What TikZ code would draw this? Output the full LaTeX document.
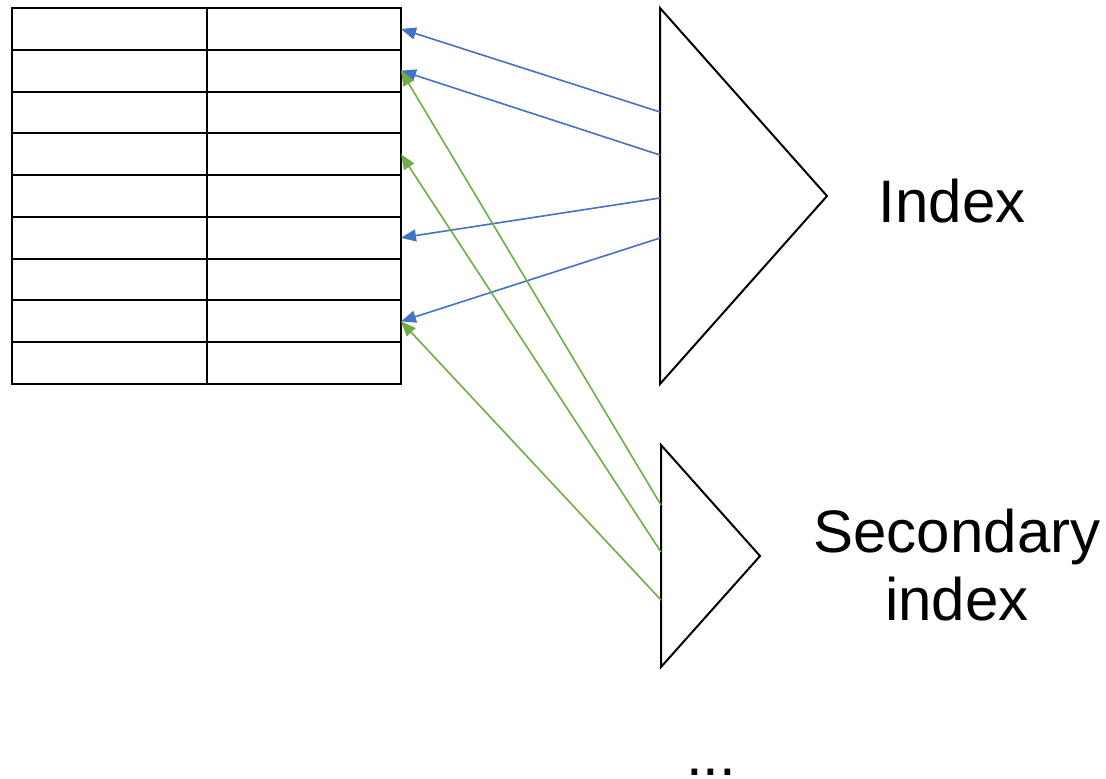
\documentclass[tikz,border=0pt]{standalone}
\usepackage{fontspec}
\setmainfont{Liberation Sans}
\usepackage{xcolor}
\usetikzlibrary{arrows.meta}
\definecolor{idxblue}{HTML}{4472C4}
\definecolor{idxgreen}{HTML}{70AD47}

\begin{document}
\begin{tikzpicture}[x=0.5pt, y=-0.5pt, line join=miter,
  link/.style={line width=0.8pt, -{Triangle[length=7.5pt,width=6pt]}},
  caption/.style={font=\fontsize{30}{34}\selectfont, inner sep=0pt, anchor=base, align=center}]
  \useasboundingbox (0,0) rectangle (1106,778);
  \draw [line width=1pt] (12,8) rectangle (401,384);
  \draw [line width=1pt] (207,8) -- (207,384);
  \foreach \r in {1,...,8}
    \draw [line width=1pt] (12,8+41.78*\r) -- (401,8+41.78*\r);
  \foreach \r in {1,...,9}
    \coordinate (row\r) at (401,8+41.78*\r-20.89);
  \draw [line width=1pt] (660,8) -- (827,196) -- (660,384) -- cycle;
  \draw [line width=1pt] (661,445) -- (760,556) -- (661,667) -- cycle;
  \coordinate (i1) at (660,112);
  \coordinate (i2) at (660,155);
  \coordinate (i3) at (660,198);
  \coordinate (i4) at (660,238);
  \coordinate (s1) at (661,505);
  \coordinate (s2) at (661,552);
  \coordinate (s3) at (661,600);
  \draw [link, idxblue] (i1) -- (row1);
  \draw [link, idxblue] (i2) -- (row2);
  \draw [link, idxblue] (i3) -- (row6);
  \draw [link, idxblue] (i4) -- (row8);
  \draw [link, idxgreen] (s1) -- (row2);
  \draw [link, idxgreen] (s2) -- (row4);
  \draw [link, idxgreen] (s3) -- (row8);
  \node [caption] (index) at (952,222) {Index};
  \node [caption] (secondary) at (957,620) {Secondary\\index};
  \node [caption] (more) at (711,775) {...};
\end{tikzpicture}
\end{document}
